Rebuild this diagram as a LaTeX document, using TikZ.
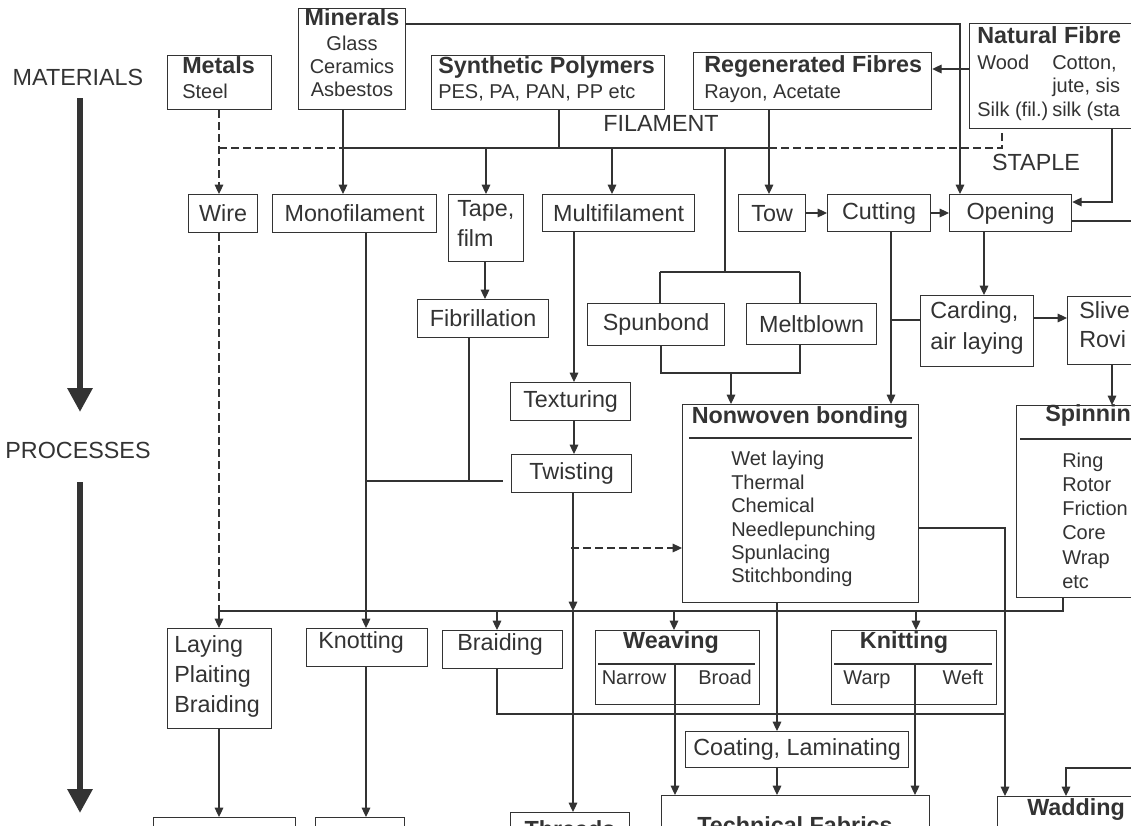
\documentclass[tikz,border=0pt]{standalone}
\usepackage{fontspec}
\setmainfont{Liberation Sans}
\usetikzlibrary{arrows.meta}
\definecolor{ink}{HTML}{333333}
\newcommand\fA{\fontsize{17.5}{20}\selectfont}
\newcommand\fB{\fontsize{15}{17.5}\selectfont}
\newcommand\fT{\bfseries\fontsize{17.5}{20}\selectfont}
\newcommand\Bx[6]{\node[bx, minimum width={(#4-#2)*0.75pt}, minimum height={(#5-#3)*0.75pt}, anchor=north west] (#1) at (#2,#3) {#6};}
\begin{document}
\begin{tikzpicture}[x=0.75pt,y=-0.75pt,
  bx/.style={draw=ink, line width=0.9pt, inner sep=0pt, text=ink, font=\fA, align=center},
  tx/.style={inner sep=0pt, text=ink, font=\fA, anchor=mid west},
  txc/.style={inner sep=0pt, text=ink, font=\fA, anchor=mid},
  ln/.style={draw=ink, line width=0.8pt},
  arr/.style={ln, -{Triangle[length=7pt,width=6.5pt]}},
  dsh/.style={ln, dash pattern=on 6pt off 3pt},
  darr/.style={dsh, -{Triangle[length=7pt,width=6.5pt]}},
  big/.style={draw=ink, line width=4.5pt, -{Triangle[length=18pt,width=18pt]}}]
\useasboundingbox (0,0) rectangle (1131,825);
\clip (0,0) rectangle (1131,825);
\fill[white] (0,0) rectangle (1131,825);

% side labels and big arrows
\node[txc] (matl) at (78,82) {MATERIALS};
\node[txc] (proc) at (78,455) {PROCESSES};
\coordinate (bigA1) at (80,98);
\coordinate (bigA2) at (80,412);
\coordinate (bigB1) at (80,482);
\coordinate (bigB2) at (80,813);
\draw[big] (bigA1) -- (bigA2);
\draw[big] (bigB1) -- (bigB2);

\node[txc] (fil) at (661,128) {FILAMENT};
\node[txc] (stap) at (1036,167) {STAPLE};

% materials
\Bx{metals}{167}{55}{271}{109}{}
\node[tx,font=\fT] (metalsA) at (182,70) {Metals};
\node[tx,font=\fB] (metalsB) at (182,95) {Steel};

\Bx{minerals}{298}{8}{405}{109}{}
\node[txc,font=\fT] (minA) at (352,22) {Minerals};
\node[txc,font=\fB] (minB) at (352,47) {Glass};
\node[txc,font=\fB] (minC) at (352,70) {Ceramics};
\node[txc,font=\fB] (minD) at (352,93) {Asbestos};

\Bx{synth}{431}{55}{664}{109}{}
\node[tx,font=\fT] (synA) at (438,70) {Synthetic Polymers};
\node[tx,font=\fB] (synB) at (438,95) {PES, PA, PAN, PP etc};

\Bx{regen}{693}{52}{931}{109}{}
\node[tx,font=\fT] (regA) at (704,69) {Regenerated Fibres};
\node[tx,font=\fB] (regB) at (704,95) {Rayon, Acetate};

\Bx{natural}{969}{23}{1160}{128}{}
\node[tx,font=\fT] (natA) at (977,40) {Natural Fibre};
\node[tx,font=\fB] (natB) at (977,66) {Wood};
\node[tx,font=\fB] (natC) at (1052,66) {Cotton,};
\node[tx,font=\fB] (natD) at (1052,89) {jute, sis};
\node[tx,font=\fB] (natE) at (977,113) {Silk (fil.)};
\node[tx,font=\fB] (natF) at (1052,113) {silk (sta};

% first process row
\Bx{wire}{188}{194}{257}{232}{Wire}
\Bx{mono}{272}{194}{436}{232}{Monofilament}
\Bx{tape}{448}{194}{523}{261}{}
\node[tx] (tapeA) at (457,213) {Tape,};
\node[tx] (tapeB) at (457,243) {film};
\Bx{multi}{542}{194}{694}{231}{Multifilament}
\Bx{tow}{738}{194}{805}{231}{Tow}
\Bx{cutting}{827}{194}{930}{231}{Cutting}
\Bx{opening}{949}{194}{1071}{231}{Opening}

\Bx{fibril}{417}{299}{548}{337}{Fibrillation}
\Bx{spunbond}{587}{303}{724}{345}{Spunbond}
\Bx{meltblown}{746}{303}{876}{344}{Meltblown}
\Bx{carding}{920}{295}{1033}{366}{}
\node[tx] (cardA) at (930,315) {Carding,};
\node[tx] (cardB) at (930,346) {air laying};
\Bx{sliver}{1067}{296}{1160}{364}{}
\node[tx] (slA) at (1079,315) {Slive};
\node[tx] (slB) at (1079,344) {Rovi};

\Bx{texturing}{510}{382}{630}{420}{Texturing}
\Bx{twisting}{511}{454}{631}{492}{Twisting}

\Bx{nonwoven}{682}{404}{918}{602}{}
\node[txc,font=\fT] (nwA) at (800,420) {Nonwoven bonding};
\draw[ln] (689,438) -- (912,438);
\foreach \t/\yy in {Wet laying/462,Thermal/486,Chemical/509,Needlepunching/533,Spunlacing/556,Stitchbonding/579}
  \node[tx,font=\fB] (nw\yy) at (731,\yy) {\t};

\Bx{spinning}{1016}{405}{1160}{597}{}
\node[tx,font=\fT] (spA) at (1045,418) {Spinnin};
\draw[ln] (1020,439) -- (1140,439);
\foreach \t/\yy in {Ring/464,Rotor/488,Friction/512,Core/536,Wrap/561,etc/585}
  \node[tx,font=\fB] (sp\yy) at (1062,\yy) {\t};

% second process row
\Bx{laying}{167}{628}{271}{728}{}
\node[tx] (layA) at (174,649) {Laying};
\node[tx] (layB) at (174,679) {Plaiting};
\node[tx] (layC) at (174,709) {Braiding};
\Bx{knotting}{306}{628}{427}{666}{}
\node[tx] (knotA) at (318,645) {Knotting};
\Bx{braiding}{442}{630}{562}{668}{}
\node[tx] (braA) at (457,647) {Braiding};
\Bx{weaving}{595}{630}{759}{704}{}
\node[txc,font=\fT] (weaA) at (671,645) {Weaving};
\node[txc,font=\fB] (weaB) at (634,681) {Narrow};
\node[txc,font=\fB] (weaC) at (725,681) {Broad};
\draw[ln] (598,664) -- (755,664);
\Bx{knitting}{831}{630}{996}{704}{}
\node[txc,font=\fT] (kniA) at (904,645) {Knitting};
\node[txc,font=\fB] (kniB) at (867,681) {Warp};
\node[txc,font=\fB] (kniC) at (963,681) {Weft};
\draw[ln] (834,664) -- (992,664);
\Bx{coating}{685}{731}{908}{767}{Coating, Laminating}

% bottom row
\Bx{botA}{153}{817}{295}{870}{}
\Bx{botB}{315}{817}{404}{870}{}
\Bx{botC}{510}{812}{629}{870}{}
\node[txc,font=\fT] (thA) at (570,834) {Threads};
\Bx{techfab}{661}{795}{929}{870}{}
\node[txc,font=\fT] (tfA) at (795,830) {Technical Fabrics};
\Bx{wadding}{997}{796}{1160}{870}{}
\node[tx,font=\fT] (wadA) at (1027,812) {Wadding};

% junction coordinates
\coordinate (cMin) at (960,24);
\coordinate (cNR) at (950,69);
\coordinate (hM) at (219,148);
\coordinate (hN) at (343,148);
\coordinate (hY) at (559,148);
\coordinate (hT) at (486,148);
\coordinate (hMu) at (612,148);
\coordinate (hC) at (725,148);
\coordinate (hR) at (769,148);
\coordinate (hS) at (1002,148);
\coordinate (bT) at (725,272);
\coordinate (bL) at (660,272);
\coordinate (bR) at (800,272);
\coordinate (lL) at (661,373);
\coordinate (lR) at (800,373);
\coordinate (lA) at (731,373);
\coordinate (cSt) at (1112,202);
\coordinate (cTC) at (0,213);
\coordinate (cOR) at (1140,221);
\coordinate (cTF) at (485,0);
\coordinate (cK) at (366,0);
\coordinate (fA) at (469,481);
\coordinate (fL) at (366,481);
\coordinate (fR) at (503,481);
\coordinate (cMT) at (574,0);
\coordinate (tJ) at (573,611);
\coordinate (dS) at (571,548);
\coordinate (cCN) at (891,0);
\coordinate (cCL) at (891,320);
\coordinate (cOC) at (984,0);
\coordinate (cCS) at (0,318);
\coordinate (cSS) at (1112,0);
\coordinate (nR) at (1005,528);
\coordinate (sB) at (1063,611);
\coordinate (dL) at (219,611);
\coordinate (dB) at (497,611);
\coordinate (dW) at (674,611);
\coordinate (dK) at (916,611);
\coordinate (cNC) at (777,0);
\coordinate (wV) at (675,664);
\coordinate (kV) at (915,664);
\coordinate (bB) at (497,714);
\coordinate (bE) at (1005,714);
\coordinate (wR) at (1140,768);
\coordinate (wD) at (1066,768);

% materials connectors
\draw[arr] (minerals.east |- cMin) -| (opening.north -| cMin);
\draw[arr] (natural.west |- cNR) -- (regen.east |- cNR);
\draw[darr] (metals.south -| hM) -- (wire.north -| hM);
\draw[dsh] (hM) -- (hN);
\draw[arr] (minerals.south -| hN) -- (mono.north -| hN);
\draw[ln] (hN) -- (hR);
\draw[ln] (synth.south -| hY) -- (hY);
\draw[arr] (hT) -- (tape.north -| hT);
\draw[arr] (hMu) -- (multi.north -| hMu);
\draw[arr] (regen.south -| hR) -- (tow.north -| hR);
\draw[dsh] (hR) -- (hS) -- (natural.south -| hS);
\draw[ln] (hC) -- (bT);
\draw[ln] (bL) -- (bR);
\draw[ln] (bL) -- (spunbond.north -| bL);
\draw[ln] (bR) -- (meltblown.north -| bR);
\draw[ln] (spunbond.south -| lL) -- (lL) -- (lR) -- (meltblown.south -| lR);
\draw[arr] (lA) -- (nonwoven.north -| lA);
\draw[arr] (natural.south -| cSt) |- (opening.east |- cSt);
\draw[arr] (tow.east |- cTC) -- (cutting.west |- cTC);
\draw[arr] (cutting.east |- cTC) -- (opening.west |- cTC);
\draw[ln] (opening.east |- cOR) -- (cOR);

% process connectors
\draw[arr] (tape.south -| cTF) -- (fibril.north -| cTF);
\draw[arr] (mono.south -| cK) -- (knotting.north -| cK);
\draw[ln] (fibril.south -| fA) -- (fA);
\draw[ln] (fL) -- (fR);
\draw[arr] (multi.south -| cMT) -- (texturing.north -| cMT);
\draw[arr] (texturing.south -| cMT) -- (twisting.north -| cMT);
\draw[arr] (twisting.south -| tJ) -- (tJ);
\draw[arr] (tJ) -- (botC.north -| tJ);
\draw[darr] (dS) -- (nonwoven.west |- dS);
\draw[arr] (cutting.south -| cCN) -- (nonwoven.north -| cCN);
\draw[ln] (carding.west |- cCL) -- (cCL);
\draw[arr] (opening.south -| cOC) -- (carding.north -| cOC);
\draw[arr] (carding.east |- cCS) -- (sliver.west |- cCS);
\draw[arr] (sliver.south -| cSS) -- (spinning.north -| cSS);
\draw[arr] (nonwoven.east |- nR) -| (wadding.north -| nR);
\draw[ln] (spinning.south -| sB) -- (sB) -- (dL);
\draw[dsh] (wire.south -| dL) -- (dL);
\draw[arr] (dL) -- (laying.north -| dL);
\draw[arr] (dB) -- (braiding.north -| dB);
\draw[arr] (dW) -- (weaving.north -| dW);
\draw[arr] (dK) -- (knitting.north -| dK);
\draw[arr] (nonwoven.south -| cNC) -- (coating.north -| cNC);
\draw[arr] (coating.south -| cNC) -- (techfab.north -| cNC);
\draw[arr] (wV) -- (techfab.north -| wV);
\draw[arr] (kV) -- (techfab.north -| kV);
\draw[ln] (braiding.south -| bB) |- (bE);
\draw[arr] (laying.south -| dL) -- (botA.north -| dL);
\draw[arr] (knotting.south -| cK) -- (botB.north -| cK);
\draw[arr] (wR) -- (wD) -- (wadding.north -| wD);
\end{tikzpicture}
\end{document}
